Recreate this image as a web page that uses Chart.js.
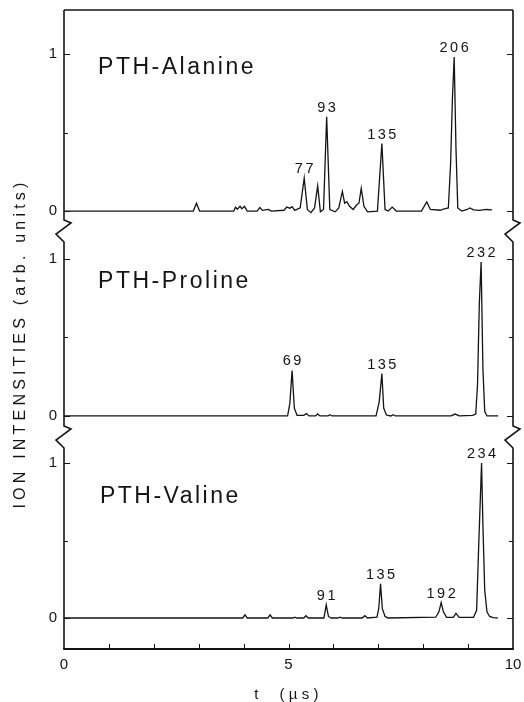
<!DOCTYPE html>
<html>
<head>
<meta charset="utf-8">
<script src="https://cdn.jsdelivr.net/npm/chart.js@4.4.1/dist/chart.umd.min.js"></script>
<style>
  html, body { margin: 0; padding: 0; background: #fff; }
</style>
</head>
<body>
<canvas id="tof-canvas" width="524" height="702"></canvas>
<script>
const FONT = "'Liberation Sans', Arial, Helvetica, sans-serif"
const INK = '#141414'

// time of flight (µs) and ion intensity (arb. units)
const alaT = [0, 2.88, 2.95, 3.02, 3.78, 3.82, 3.86, 3.92, 3.96, 4.02, 4.08, 4.30, 4.36, 4.42, 4.55, 4.62,
  4.90, 4.96, 5.03, 5.08, 5.14, 5.26, 5.35, 5.42, 5.50, 5.58, 5.65, 5.71, 5.78, 5.85, 5.92,
  6.04, 6.12, 6.20, 6.25, 6.30, 6.36, 6.44, 6.52, 6.57, 6.62, 6.68, 6.76, 6.98, 7.08, 7.15, 7.22, 7.31, 7.40,
  7.96, 8.08, 8.16, 8.38, 8.45, 8.56, 8.61, 8.65, 8.69, 8.73, 8.77, 8.86, 8.98, 9.04, 9.12, 9.26, 9.40, 9.53]
const alaI = [0, 0, 0.05, 0, 0, 0.025, 0.012, 0.03, 0.015, 0.03, 0, 0, 0.022, 0.004, 0.01, 0,
  0.005, 0.025, 0.018, 0.028, 0.004, 0.02, 0.21, 0.01, -0.01, 0.02, 0.16, -0.005, 0.01, 0.60, 0.01,
  -0.005, 0.02, 0.125, 0.05, 0.06, 0.03, 0.01, 0.04, 0.05, 0.145, 0.03, -0.005, 0, 0.43, 0.01, 0, 0.025, 0,
  0, 0.058, 0.01, 0.005, 0.012, 0.02, 0.3, 0.71, 0.98, 0.4, 0.02, 0, 0.01, 0.02, 0.008, 0.004, 0.01, 0.008]
const alaPeakT = [5.35, 5.85, 7.08, 8.69]
const alaPeakI = [0.21, 0.60, 0.43, 0.98]
const alaPeakMass = ['77', '93', '135', '206']

const proT = [0, 4.98, 5.03, 5.08, 5.13, 5.19, 5.34, 5.40, 5.46, 5.60, 5.65, 5.70, 5.88, 5.92, 5.97,
  6.95, 7.02, 7.08, 7.12, 7.18, 7.28, 7.33, 7.38, 8.62, 8.71, 8.80,
  9.10, 9.17, 9.21, 9.25, 9.29, 9.33, 9.37, 9.42, 9.67]
const proI = [0, 0, 0.08, 0.29, 0.05, 0.004, 0.004, 0.015, 0, 0, 0.013, 0, 0, 0.008, 0,
  0, 0.09, 0.27, 0.05, 0.006, 0, 0.008, 0, 0, 0.012, 0,
  0.004, 0.012, 0.2, 0.72, 0.98, 0.3, 0.03, 0, 0]
const proPeakT = [5.08, 7.08, 9.29]
const proPeakI = [0.29, 0.27, 0.98]
const proPeakMass = ['69', '135', '232']

const valT = [0, 3.98, 4.03, 4.08, 4.54, 4.59, 4.64, 5.10, 5.14, 5.18, 5.34, 5.39, 5.44,
  5.79, 5.84, 5.89, 5.95, 6.10, 6.15, 6.20, 6.64, 6.70, 6.76, 6.97, 7.01, 7.05, 7.09, 7.15, 7.22,
  8.28, 8.35, 8.40, 8.45, 8.52, 8.67, 8.73, 8.80,
  9.12, 9.19, 9.24, 9.27, 9.30, 9.33, 9.37, 9.42, 9.48, 9.56, 9.66]
const valI = [0, 0, 0.02, 0, 0, 0.02, 0, 0, 0.005, 0, 0, 0.015, 0,
  0, 0.085, 0.01, 0, 0, 0.005, 0, 0, 0.015, 0, 0.005, 0.06, 0.22, 0.06, 0.01, 0,
  0.005, 0.04, 0.10, 0.04, 0.004, 0.004, 0.03, 0.004,
  0.005, 0.05, 0.5, 0.75, 1.0, 0.6, 0.18, 0.04, 0.01, 0.003, 0]
const valPeakT = [5.84, 7.05, 8.40, 9.30]
const valPeakI = [0.085, 0.22, 0.10, 1.0]
const valPeakMass = ['91', '135', '192', '234']

const yTickValues = [0, 0.5, 1]
const xTickStep = 1

const panels = [
  { id: 'yAla', name: 'PTH-Alanine', t: alaT, i: alaI, peakT: alaPeakT, peakI: alaPeakI, mass: alaPeakMass },
  { id: 'yPro', name: 'PTH-Proline', t: proT, i: proI, peakT: proPeakT, peakI: proPeakI, mass: proPeakMass },
  { id: 'yVal', name: 'PTH-Valine', t: valT, i: valI, peakT: valPeakT, peakI: valPeakI, mass: valPeakMass }
]

// where each panel name sits, in that panel's own data units
const nameAnchor = { yAla: [0.76, 0.87], yPro: [0.76, 0.815], yVal: [0.8, 0.742] }

const panelScale = function (min, max, weight) {
  return {
    type: 'linear',
    position: 'left',
    stack: 'panels',
    stackWeight: weight,
    min: min,
    max: max,
    afterBuildTicks: (scale) => {
      scale.ticks = yTickValues.map((v) => ({ value: v }))
    },
    afterFit: (scale) => {
      // the frame is placed by layout.padding, not by label overhang
      scale.width = 64
      scale.paddingTop = 0
      scale.paddingBottom = 0
    },
    ticks: {
      callback: (v) => (v === 0.5 ? '' : String(v)),
      font: { family: FONT, size: 15 },
      color: INK,
      padding: 7
    },
    grid: { display: false, drawTicks: false },
    border: { display: false }
  }
}

const zigzag = function (ctx, x, b) {
  ctx.lineTo(x, b - 11)
  ctx.lineTo(x + 7, b - 8)
  ctx.lineTo(x - 8, b + 3)
  ctx.lineTo(x, b + 11)
}

const framePlugin = {
  id: 'frame',
  afterDraw(chart) {
    const { ctx, chartArea } = chart
    const { left, right, top, bottom } = chartArea
    const ys = panels.map((p) => chart.scales[p.id]).sort((a, b) => a.top - b.top)
    const breaks = ys.slice(1).map((s) => s.top)

    ctx.save()
    ctx.strokeStyle = INK
    ctx.lineJoin = 'miter'

    // sides with break marks
    ctx.lineWidth = 1.6
    for (const x of [left, right]) {
      ctx.beginPath()
      ctx.moveTo(x, top)
      breaks.forEach((b) => zigzag(ctx, x, b))
      ctx.lineTo(x, bottom)
      ctx.stroke()
    }

    ctx.beginPath()
    ctx.moveTo(left, top)
    ctx.lineTo(right, top)
    ctx.stroke()

    ctx.lineWidth = 2.2
    ctx.beginPath()
    ctx.moveTo(left - 0.8, bottom)
    ctx.lineTo(right + 0.8, bottom)
    ctx.stroke()

    // inward tick marks
    ctx.lineWidth = 1
    ys.forEach((s) => {
      s.ticks.forEach((tk) => {
        const py = Math.round(s.getPixelForValue(tk.value)) + 0.5
        const len = tk.value === 0.5 ? 4 : 6
        ctx.beginPath()
        ctx.moveTo(left, py)
        ctx.lineTo(left + len, py)
        ctx.moveTo(right - len, py)
        ctx.lineTo(right, py)
        ctx.stroke()
      })
    })
    const xs = chart.scales.x
    xs.ticks.forEach((tk) => {
      if (tk.value <= xs.min || tk.value >= xs.max) return
      const px = Math.round(xs.getPixelForValue(tk.value)) + 0.5
      ctx.beginPath()
      ctx.moveTo(px, bottom)
      ctx.lineTo(px, bottom - 5)
      ctx.stroke()
    })
    ctx.restore()
  }
}

const textPlugin = {
  id: 'panelText',
  afterDraw(chart) {
    const { ctx, chartArea } = chart
    const xs = chart.scales.x
    ctx.save()
    ctx.fillStyle = INK

    panels.forEach((p) => {
      const ys = chart.scales[p.id]
      const anchor = nameAnchor[p.id]
      ctx.font = `23px ${FONT}`
      ctx.letterSpacing = '2.5px'
      ctx.textAlign = 'left'
      ctx.textBaseline = 'alphabetic'
      ctx.fillText(p.name, xs.getPixelForValue(anchor[0]), ys.getPixelForValue(anchor[1]))

      ctx.font = `14.5px ${FONT}`
      ctx.letterSpacing = '2.5px'
      ctx.textAlign = 'center'
      p.mass.forEach((m, k) => {
        const px = xs.getPixelForValue(p.peakT[k]) + 1.2
        const py = ys.getPixelForValue(p.peakI[k]) - 5
        ctx.fillText(m, px, py)
      })
    })

    // x title
    ctx.font = `15px ${FONT}`
    ctx.letterSpacing = '4.3px'
    ctx.textAlign = 'center'
    ctx.textBaseline = 'alphabetic'
    ctx.fillText('t  (µs)', (chartArea.left + chartArea.right) / 2, 699)

    // shared y title
    ctx.translate(21, (chartArea.top + chartArea.bottom) / 2 + 14)
    ctx.rotate(-Math.PI / 2)
    ctx.font = `16px ${FONT}`
    ctx.letterSpacing = '4.2px'
    ctx.textAlign = 'center'
    ctx.textBaseline = 'middle'
    ctx.fillText('ION INTENSITIES (arb. units)', 0, 0)
    ctx.restore()
  }
}

const traceStyle = {
  borderColor: INK,
  borderWidth: 1.3,
  pointRadius: 0,
  tension: 0,
  fill: false
}

new Chart(document.getElementById('tof-canvas').getContext('2d'), {
  type: 'line',
  data: {
    datasets: panels.map((p) => ({
      ...traceStyle,
      label: p.name,
      yAxisID: p.id,
      data: p.t.map((t, k) => ({ x: t, y: p.i[k] }))
    }))
  },
  options: {
    responsive: false,
    animation: false,
    devicePixelRatio: 1,
    layout: { padding: { top: 10, right: 11, bottom: 0, left: 0 } },
    plugins: {
      legend: { display: false },
      tooltip: { enabled: false }
    },
    scales: {
      x: {
        type: 'linear',
        min: 0,
        max: 10,
        ticks: {
          stepSize: xTickStep,
          autoSkip: false,
          maxRotation: 0,
          callback: (v) => (v % 5 === 0 ? String(v) : ''),
          font: { family: FONT, size: 15 },
          color: INK,
          padding: 7
        },
        grid: { display: false, drawTicks: false },
        border: { display: false },
        afterFit: (scale) => {
          scale.height = 53
          scale.paddingLeft = 0
          scale.paddingRight = 0
        }
      },
      // stacked scales are laid out bottom-up, so the lowest panel comes first
      yVal: panelScale(-0.2, 1.168, 212),
      yPro: panelScale(-0.134, 1.178, 206),
      yAla: panelScale(-0.127, 1.28, 221)
    }
  },
  plugins: [framePlugin, textPlugin]
})
</script>
</body>
</html>
